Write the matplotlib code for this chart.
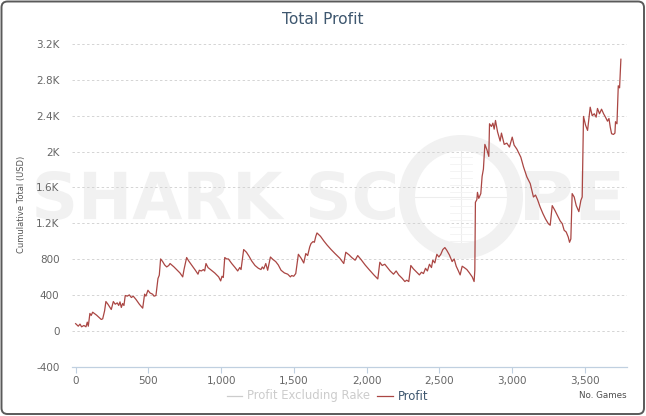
import numpy as np
import matplotlib
matplotlib.use('Agg')
import matplotlib.pyplot as plt
from matplotlib.patches import FancyBboxPatch, PathPatch, Circle
from matplotlib.textpath import TextPath
from matplotlib.font_manager import FontProperties
from matplotlib.lines import Line2D
from matplotlib.ticker import FuncFormatter
import matplotlib.transforms as mtransforms

# cumulative profit (no. of games, USD)
games = [0, 18, 30, 41, 57, 71, 80, 87, 98, 107, 117, 144, 176, 186, 199, 208, 222, 245, 259, 272,
         286, 296, 305, 314, 323, 332, 341, 355, 369, 383, 396, 415, 438, 461, 474, 483, 497, 511, 529, 539,
         552, 566, 575, 584, 598, 612, 626, 640, 649, 676, 694, 717, 736, 745, 763, 777, 800, 823, 841, 850,
         864, 878, 887, 896, 910, 933, 956, 983, 997, 1006, 1015, 1025, 1038, 1050, 1073, 1096, 1114, 1128, 1137, 1155,
         1174, 1192, 1210, 1233, 1256, 1274, 1283, 1293, 1307, 1320, 1339, 1357, 1375, 1393, 1412, 1435, 1458, 1476, 1485, 1499,
         1513, 1531, 1550, 1568, 1582, 1595, 1609, 1618, 1632, 1641, 1651, 1659, 1683, 1706, 1728, 1756, 1783, 1816, 1843, 1857,
         1880, 1898, 1921, 1939, 1962, 1990, 2017, 2050, 2077, 2091, 2107, 2125, 2143, 2162, 2185, 2203, 2221, 2244, 2263, 2276,
         2290, 2304, 2322, 2345, 2363, 2377, 2391, 2405, 2418, 2432, 2446, 2455, 2469, 2483, 2497, 2510, 2524, 2538, 2551, 2569,
         2588, 2602, 2616, 2629, 2643, 2657, 2671, 2689, 2707, 2726, 2739, 2744, 2748, 2758, 2762, 2771, 2785, 2794, 2803, 2813,
         2827, 2840, 2845, 2858, 2868, 2877, 2886, 2900, 2918, 2927, 2946, 2964, 2982, 3001, 3014, 3033, 3051, 3060, 3079, 3102,
         3125, 3147, 3161, 3175, 3193, 3212, 3230, 3249, 3262, 3276, 3294, 3312, 3331, 3345, 3358, 3372, 3386, 3395, 3404, 3413,
         3427, 3441, 3459, 3473, 3482, 3491, 3505, 3519, 3537, 3551, 3565, 3578, 3587, 3601, 3615, 3629, 3642, 3656, 3666, 3675,
         3684, 3697, 3707, 3711, 3721, 3730, 3739, 3748]
profit = [80, 52, 75, 45, 60, 45, 97, 52, 194, 172, 208, 175, 127, 134, 223, 327, 297, 238, 327, 297,
          312, 283, 323, 261, 305, 283, 394, 387, 401, 372, 387, 350, 297, 253, 409, 387, 453, 423, 409, 387,
          394, 584, 621, 802, 773, 735, 713, 729, 751, 713, 684, 646, 602, 684, 818, 780, 729, 676, 632, 676,
          668, 684, 668, 751, 706, 676, 646, 602, 557, 609, 595, 818, 802, 802, 751, 706, 668, 706, 684, 907,
          877, 832, 780, 729, 698, 684, 713, 691, 751, 676, 824, 795, 773, 735, 676, 646, 632, 602, 617, 609,
          639, 854, 810, 757, 862, 840, 936, 974, 996, 988, 1055, 1092, 1055, 1003, 958, 907, 862, 810, 751, 877,
          847, 818, 788, 840, 795, 735, 684, 624, 579, 765, 729, 743, 706, 668, 632, 668, 624, 587, 550, 565,
          550, 729, 691, 654, 624, 654, 639, 698, 668, 743, 706, 788, 758, 854, 824, 854, 907, 929, 899, 847,
          773, 802, 721, 676, 624, 721, 706, 684, 646, 602, 550, 676, 1434, 1464, 1545, 1478, 1531, 1723, 1805, 2080,
          2021, 1946, 2310, 2280, 2317, 2250, 2347, 2221, 2117, 2206, 2080, 2094, 2050, 2161, 2072, 2027, 1968, 1938, 1827, 1716,
          1642, 1493, 1515, 1464, 1381, 1308, 1248, 1196, 1178, 1397, 1345, 1286, 1225, 1196, 1122, 1103, 1047, 988, 1025, 1531,
          1493, 1397, 1330, 1456, 1493, 2392, 2295, 2236, 2495, 2400, 2422, 2384, 2481, 2422, 2473, 2422, 2384, 2339, 2369, 2272,
          2199, 2191, 2206, 2333, 2310, 2734, 2711, 3030]

x_ticks = [0, 500, 1000, 1500, 2000, 2500, 3000, 3500]
y_ticks = [-400, 0, 400, 800, 1200, 1600, 2000, 2400, 2800, 3200]
y_labels = ['-400', '0', '400', '800', '1.2K', '1.6K', '2K', '2.4K', '2.8K', '3.2K']

W, H = 646, 416
fig = plt.figure(figsize=(W / 100, H / 100), dpi=100)
fig.patch.set_facecolor('white')

# pixel coords (origin top-left) -> display
px = mtransforms.Affine2D().scale(1, -1).translate(0, H).scale(1 / 100) + fig.dpi_scale_trans

# outer rounded border
fig.patches.append(FancyBboxPatch((1.5, 1.5), W - 3.5, H - 3.5, boxstyle='round,pad=0,rounding_size=6',
                                  transform=px, facecolor='none', edgecolor='#5a5a5a', linewidth=1.4,
                                  zorder=-2))

# watermark
wm_color = '#f1f1f1'
fp = FontProperties(family='DejaVu Sans', weight='bold')


def add_word(word, x0, x1, y_top, y_bot):
    tp = TextPath((0, 0), word, prop=fp, size=10)
    ext = tp.get_extents()
    t = (mtransforms.Affine2D().translate(-ext.x0, -ext.y0)
         .scale((x1 - x0) / ext.width, -(y_bot - y_top) / ext.height)
         .translate(x0, y_bot))
    fig.patches.append(PathPatch(t.transform_path(tp), transform=px, facecolor=wm_color,
                                 edgecolor='none', zorder=-1))


add_word('SHARK SC', 36, 395, 171, 220)
add_word('PE', 525, 620, 171, 220)
fig.patches.append(Circle((461, 197), 54, transform=px, facecolor='none', edgecolor=wm_color,
                          linewidth=11.5, zorder=-1))
fig.lines.append(Line2D([461, 461], [143, 251], transform=px, color='#ededed', lw=0.8, zorder=-1))
fig.lines.append(Line2D([407, 515], [197, 197], transform=px, color='#ededed', lw=0.8, zorder=-1))
for yy in range(150, 250, 7):
    fig.lines.append(Line2D([450, 472], [yy, yy], transform=px, color='#f3f3f3', lw=0.6, zorder=-1))

ax = fig.add_axes([72 / W, 1 - 366.7 / H, (627 - 72) / W, (366.7 - 44) / H])
ax.set_facecolor('none')
ax.plot(games, profit, color='#AA4643', lw=0.9, zorder=3)

ax.set_xlim(-25, 3790)
ax.set_ylim(-400, 3200)
ax.set_xticks(x_ticks)
ax.xaxis.set_major_formatter(FuncFormatter(lambda v, p: f'{int(v):,}'))
ax.set_yticks(y_ticks)
ax.set_yticklabels(y_labels)

for y in y_ticks[1:]:
    ax.axhline(y, color='#d4d4d4', lw=0.7, ls=(0, (2.5, 2.5)), zorder=1)

for s in ['top', 'right', 'left']:
    ax.spines[s].set_visible(False)
ax.spines['bottom'].set_color('#C0D0E0')
ax.spines['bottom'].set_linewidth(0.9)

ax.tick_params(axis='x', colors='#C0D0E0', length=4, width=0.8, pad=3, labelsize=7.5, labelcolor='#666666')
ax.tick_params(axis='y', length=0, pad=9, labelsize=7.5, labelcolor='#666666')

# axis title placed by hand, as in the original chart
fig.text(22 / W, 1 - 204 / H, 'Cumulative Total (USD)', rotation=90, ha='center', va='center',
         fontsize=6, color='#555555')

fig.text(322.5 / W, 1 - 19 / H, 'Total Profit', ha='center', va='center', fontsize=11.2, color='#3E576F')

# legend
ly = 396
fig.lines.append(Line2D([227, 242], [ly, ly], transform=px, color='#cccccc', lw=0.9))
fig.text(247 / W, 1 - ly / H, 'Profit Excluding Rake', ha='left', va='center', fontsize=8.4, color='#cccccc')
fig.lines.append(Line2D([377, 393], [ly, ly], transform=px, color='#AA4643', lw=0.9))
fig.text(398 / W, 1 - ly / H, 'Profit', ha='left', va='center', fontsize=8.4, color='#3E576F')
fig.text(627 / W, 1 - 395 / H, 'No. Games', ha='right', va='center', fontsize=6.3, color='#4d4d4d')

fig.savefig('out.png', dpi=100, facecolor='white')
